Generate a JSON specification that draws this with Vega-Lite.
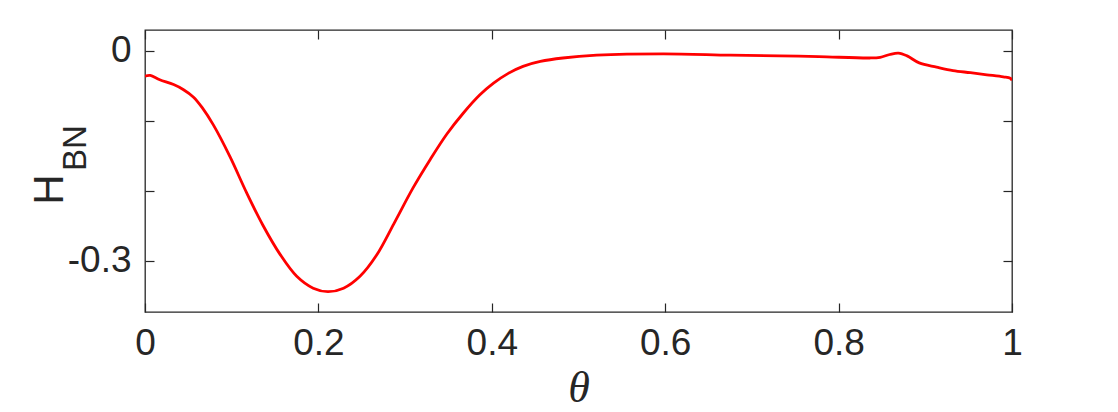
{
  "$schema": "https://vega.github.io/schema/vega-lite/v6.json",
  "autosize": {"type": "none"},
  "padding": {"left": 145, "top": 30, "right": 106, "bottom": 100},
  "width": 867,
  "height": 282,
  "background": "white",
  "config": {
    "view": {"stroke": "#262626", "strokeWidth": 1.3},
    "axis": {"font": "Liberation Sans", "labelFont": "Liberation Sans", "titleFont": "Liberation Sans", "labelColor": "#262626", "titleColor": "#262626", "tickColor": "#262626", "tickWidth": 1.2, "domain": false, "grid": false, "titleFontWeight": "normal"}
  },
  "data": {"values": [
    {"theta": 0.000, "H": -0.036}, {"theta": 0.006, "H": -0.035}, {"theta": 0.017, "H": -0.041},
    {"theta": 0.033, "H": -0.048}, {"theta": 0.044, "H": -0.055}, {"theta": 0.056, "H": -0.066},
    {"theta": 0.066, "H": -0.081}, {"theta": 0.079, "H": -0.106}, {"theta": 0.098, "H": -0.151},
    {"theta": 0.117, "H": -0.202}, {"theta": 0.136, "H": -0.249}, {"theta": 0.156, "H": -0.291},
    {"theta": 0.175, "H": -0.322}, {"theta": 0.194, "H": -0.339}, {"theta": 0.211, "H": -0.344},
    {"theta": 0.229, "H": -0.339}, {"theta": 0.248, "H": -0.322}, {"theta": 0.267, "H": -0.292},
    {"theta": 0.287, "H": -0.247}, {"theta": 0.309, "H": -0.196}, {"theta": 0.329, "H": -0.155},
    {"theta": 0.348, "H": -0.119}, {"theta": 0.367, "H": -0.089}, {"theta": 0.386, "H": -0.063},
    {"theta": 0.402, "H": -0.046}, {"theta": 0.419, "H": -0.032}, {"theta": 0.436, "H": -0.022},
    {"theta": 0.456, "H": -0.015}, {"theta": 0.482, "H": -0.010}, {"theta": 0.521, "H": -0.006},
    {"theta": 0.598, "H": -0.004}, {"theta": 0.675, "H": -0.006}, {"theta": 0.732, "H": -0.007},
    {"theta": 0.777, "H": -0.008}, {"theta": 0.836, "H": -0.010}, {"theta": 0.848, "H": -0.009},
    {"theta": 0.859, "H": -0.005}, {"theta": 0.869, "H": -0.003}, {"theta": 0.879, "H": -0.007},
    {"theta": 0.893, "H": -0.017}, {"theta": 0.913, "H": -0.023}, {"theta": 0.932, "H": -0.028},
    {"theta": 0.952, "H": -0.031}, {"theta": 0.971, "H": -0.034}, {"theta": 0.990, "H": -0.037},
    {"theta": 0.998, "H": -0.039}, {"theta": 1.000, "H": -0.042}
  ]},
  "resolve": {"axis": {"x": "independent", "y": "independent"}},
  "layer": [
    {
      "mark": {"type": "line", "color": "#ff0000", "strokeWidth": 2.8, "interpolate": "catmull-rom", "clip": true},
      "encoding": {
        "x": {"field": "theta", "type": "quantitative",
              "scale": {"domain": [0, 1], "nice": false, "zero": false},
              "axis": {"orient": "bottom", "values": [0, 0.2, 0.4, 0.6, 0.8, 1],
                       "labelExpr": "datum.value == 0 ? '0' : datum.value == 1 ? '1' : format(datum.value, '.1f')",
                       "tickSize": -9, "labelPadding": 22, "labelFontSize": 37, "labelFlush": false,
                       "title": "θ", "titleFont": "Liberation Serif", "titleFontStyle": "italic", "titleFontSize": 44,
                       "titleX": 433.5, "titleY": 89, "titleBaseline": "alphabetic", "titleAlign": "center"}},
        "y": {"field": "H", "type": "quantitative",
              "scale": {"domain": [-0.373, 0.03], "nice": false, "zero": false},
              "axis": {"orient": "left", "values": [0, -0.1, -0.2, -0.3],
                       "labelExpr": "datum.value == 0 ? '0' : datum.value == -0.3 ? '-0.3' : ''",
                       "tickSize": -9, "labelPadding": 23, "labelFontSize": 37,
                       "title": "H", "titleFontSize": 42, "titleAngle": -90,
                       "titleX": -83, "titleY": 159, "titleBaseline": "alphabetic", "titleAlign": "center"}}
      }
    },
    {
      "mark": {"type": "line", "strokeOpacity": 0},
      "encoding": {
        "x": {"field": "theta", "type": "quantitative",
              "scale": {"domain": [0, 1], "nice": false, "zero": false},
              "axis": {"orient": "top", "values": [0, 0.2, 0.4, 0.6, 0.8, 1], "labels": false, "tickSize": -9, "title": null}},
        "y": {"field": "H", "type": "quantitative",
              "scale": {"domain": [-0.373, 0.03], "nice": false, "zero": false},
              "axis": {"orient": "right", "values": [0, -0.1, -0.2, -0.3], "labels": false, "tickSize": -9, "title": null}}
      }
    },
    {
      "mark": {"type": "line", "strokeOpacity": 0},
      "encoding": {
        "x": {"field": "theta", "type": "quantitative",
              "scale": {"domain": [0, 1], "nice": false, "zero": false},
              "axis": null},
        "y": {"field": "H", "type": "quantitative",
              "scale": {"domain": [-0.373, 0.03], "nice": false, "zero": false},
              "axis": {"orient": "left", "labels": false, "ticks": false, "title": "BN",
                       "titleFontSize": 33, "titleAngle": -90,
                       "titleX": -60, "titleY": 117.5, "titleBaseline": "alphabetic", "titleAlign": "center"}}
      }
    }
  ]
}
